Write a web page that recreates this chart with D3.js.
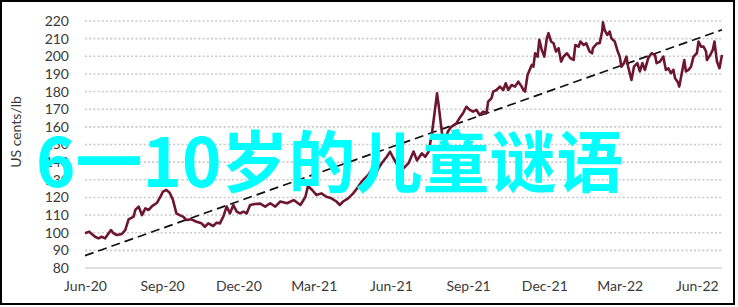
<!DOCTYPE html>
<html>
<head>
<meta charset="utf-8">
<script src="https://cdn.jsdelivr.net/npm/d3@7"></script>
<style>
  body { margin: 0; background: #fff; }
  svg { display: block; }
</style>
</head>
<body>
<script>
// precio en US cents/lb
let dates = [
  "2020-06-01","2020-06-06","2020-06-13","2020-06-17","2020-06-21","2020-06-25","2020-07-02","2020-07-05","2020-07-09","2020-07-15",
  "2020-07-19","2020-07-23","2020-07-29","2020-07-31","2020-08-04","2020-08-08","2020-08-12","2020-08-16","2020-08-20","2020-08-26",
  "2020-08-30","2020-09-02","2020-09-06","2020-09-10","2020-09-14","2020-09-18","2020-09-22","2020-09-26","2020-09-30","2020-10-06",
  "2020-10-12","2020-10-18","2020-10-22","2020-10-26","2020-11-01","2020-11-05","2020-11-09","2020-11-13","2020-11-17","2020-11-21",
  "2020-11-25","2020-11-29","2020-12-03","2020-12-07","2020-12-11","2020-12-15","2020-12-21","2020-12-27","2021-01-02","2021-01-08",
  "2021-01-14","2021-01-20","2021-01-28","2021-02-05","2021-02-13","2021-02-19","2021-02-22","2021-02-27","2021-03-04","2021-03-10",
  "2021-03-16","2021-03-22","2021-03-28","2021-04-01","2021-04-05","2021-04-11","2021-04-17","2021-04-23","2021-04-27","2021-05-01",
  "2021-05-05","2021-05-09","2021-05-13","2021-05-17","2021-05-21","2021-05-27","2021-05-31","2021-06-04","2021-06-10","2021-06-16",
  "2021-06-22","2021-06-28","2021-07-02","2021-07-08","2021-07-12","2021-07-16","2021-07-20","2021-07-23","2021-07-26","2021-07-28",
  "2021-07-30","2021-08-01","2021-08-05","2021-08-08","2021-08-12","2021-08-18","2021-08-22","2021-08-26","2021-08-30","2021-09-03",
  "2021-09-07","2021-09-11","2021-09-15","2021-09-19","2021-09-23","2021-09-25","2021-09-29","2021-10-01","2021-10-05","2021-10-09",
  "2021-10-13","2021-10-16","2021-10-19","2021-10-23","2021-10-27","2021-10-31","2021-11-04","2021-11-06","2021-11-08","2021-11-11",
  "2021-11-16","2021-11-18","2021-11-20","2021-11-23","2021-11-25","2021-11-28","2021-12-01","2021-12-04","2021-12-06","2021-12-09",
  "2021-12-12","2021-12-15","2021-12-18","2021-12-21","2021-12-24","2021-12-28","2022-01-01","2022-01-05","2022-01-07","2022-01-11",
  "2022-01-13","2022-01-17","2022-01-20","2022-01-24","2022-01-27","2022-01-28","2022-02-02","2022-02-05","2022-02-08","2022-02-09",
  "2022-02-11","2022-02-14","2022-02-17","2022-02-19","2022-02-23","2022-02-26","2022-03-01","2022-03-03","2022-03-06","2022-03-09",
  "2022-03-11","2022-03-15","2022-03-18","2022-03-22","2022-03-25","2022-03-28","2022-03-31","2022-04-04","2022-04-08","2022-04-12",
  "2022-04-14","2022-04-18","2022-04-22","2022-04-25","2022-04-28","2022-05-01","2022-05-04","2022-05-06","2022-05-09","2022-05-11",
  "2022-05-14","2022-05-17","2022-05-19","2022-05-22","2022-05-25","2022-05-28","2022-06-01","2022-06-03","2022-06-06","2022-06-09",
  "2022-06-12","2022-06-13","2022-06-17","2022-06-20","2022-06-22","2022-06-25","2022-06-28","2022-07-01"
];

let prices = [
  99.7, 100.6, 97.7, 96.8, 97.7, 96.8, 101.5, 99.7, 98.7, 99.3,
  101.5, 107.6, 109.1, 112.9, 114.8, 110, 113.8, 112.9, 115.1, 117,
  120.4, 123.3, 124.2, 122.7, 118.5, 111, 110, 109.1, 107.2, 107.6,
  106.2, 105.3, 103.4, 105.3, 103.8, 105.7, 105.3, 109.1, 114.8, 111,
  115.7, 112, 111, 112, 111, 115.7, 116.3, 116.5, 114.8, 116.7,
  114.8, 117.7, 116.7, 118.5, 115.7, 120.4, 126.5, 124.2, 121.4, 122.3,
  120.4, 119.5, 117.7, 115.7, 117.7, 119.5, 122.3, 126.1, 128.9, 130.9,
  132.7, 135.6, 131.8, 136.5, 139.4, 143.1, 145.9, 142.2, 137.4, 136.5,
  139.4, 146, 141, 145, 143, 146, 156.4, 167.7, 179, 172,
  164, 156, 153, 157.3, 160, 162, 165, 167.7, 171.4, 169.6,
  168.6, 169.6, 166.7, 168.6, 167.7, 174.3, 176.2, 180, 180.9, 182.8,
  180.9, 184.7, 180.9, 183.7, 182.8, 185.6, 182.8, 180.9, 180, 189.4,
  195.1, 194.1, 201.7, 199.8, 209.3, 203.6, 199.8, 210.2, 213.1, 208.4,
  207.4, 202.7, 204.6, 197, 199.9, 201.7, 199, 197.9, 206.4, 205.5,
  208.4, 206.4, 207.4, 202.7, 201.7, 204.6, 207.4, 207.4, 214, 219.2,
  214.9, 212.1, 214, 210.2, 208.4, 203.6, 199.8, 194.1, 196.1, 199.8,
  194.1, 186.6, 194.1, 196.1, 191.4, 196.1, 192.3, 199, 201.7, 200.8,
  196.1, 197, 199.8, 192.3, 193.2, 190.4, 192.3, 187.6, 185.6, 182.8,
  190.4, 197.9, 191.4, 192.3, 194.1, 199.8, 201.7, 208.4, 205.5, 205.5,
  202.7, 197.9, 200.8, 203.6, 208.4, 197, 193.2, 200.8
];

// línea de tendencia (punteada)
let trendDates = ["2020-06-01", "2022-07-01"];
let trendValues = [87, 215];

let yTicks = [80, 90, 100, 110, 120, 130, 140, 150, 160, 170, 180, 190, 200, 210, 220];
let xTicks = ["2020-06-01","2020-09-01","2020-12-01","2021-03-01","2021-06-01","2021-09-01","2021-12-01","2022-03-01","2022-06-01"];

let yTitle = "US cents/lb";
let watermark = "6一10岁的儿童谜语";

let WIDTH = 738, HEIGHT = 307;
let parse = d3.timeParse("%Y-%m-%d");
let font = "Lato, 'Open Sans', sans-serif";

let svg = d3.select("body").append("svg")
            .attr("width", WIDTH)
            .attr("height", HEIGHT);

let x = d3.scaleTime()
          .domain([parse("2020-06-01"), parse("2022-07-01")])
          .range([85, 722]);
let y = d3.scaleLinear()
          .domain([80, 220])
          .range([268, 21]);

// grilla punteada
svg.append("g")
   .selectAll("line")
   .data(yTicks.filter(t => t > 80))
   .enter()
   .append("line")
     .attr("x1", x.range()[0])
     .attr("x2", x.range()[1])
     .attr("y1", d => y(d))
     .attr("y2", d => y(d))
     .attr("stroke", "#c9c9c9")
     .attr("stroke-width", 1.6)
     .attr("stroke-dasharray", "2,2.2");

// eje base
svg.append("line")
   .attr("x1", x.range()[0]).attr("x2", x.range()[1])
   .attr("y1", y(80)).attr("y2", y(80))
   .attr("stroke", "#d4d4d4")
   .attr("stroke-width", 1.5);

// etiquetas eje y
let yAxis = d3.axisLeft(y).tickValues(yTicks).tickSize(0).tickPadding(0);
let gy = svg.append("g")
            .attr("transform", "translate(69,0)")
            .call(yAxis);
gy.select(".domain").remove();
gy.selectAll("text")
  .attr("font-family", font)
  .attr("font-size", 14)
  .attr("fill", "#3a3a3a");

// etiquetas eje x
let xAxis = d3.axisBottom(x)
              .tickValues(xTicks.map(parse))
              .tickFormat(d3.timeFormat("%b-%y"))
              .tickSize(0)
              .tickPadding(0);
let gx = svg.append("g")
            .attr("transform", "translate(0,281)")
            .call(xAxis);
gx.select(".domain").remove();
gx.selectAll("text")
  .attr("font-family", font)
  .attr("font-size", 14)
  .attr("fill", "#3a3a3a");

// título eje y
svg.append("text")
   .attr("transform", "translate(21,132) rotate(-90)")
   .attr("text-anchor", "middle")
   .attr("font-family", font)
   .attr("font-size", 14)
   .attr("fill", "#3a3a3a")
   .text(yTitle);

// tendencia
let trend = trendDates.map((d, i) => ({ date: parse(d), value: trendValues[i] }));
svg.append("path")
   .datum(trend)
   .attr("fill", "none")
   .attr("stroke", "#111")
   .attr("stroke-width", 1.7)
   .attr("stroke-dasharray", "9,5")
   .attr("d", d3.line().x(d => x(d.date)).y(d => y(d.value)));

// serie de precios
let series = dates.map((d, i) => ({ date: parse(d), value: prices[i] }));
svg.append("path")
   .datum(series)
   .attr("fill", "none")
   .attr("stroke", "#6d1630")
   .attr("stroke-width", 2.6)
   .attr("stroke-linejoin", "round")
   .attr("d", d3.line().x(d => x(d.date)).y(d => y(d.value)));

// marco
svg.append("rect")
   .attr("x", 1).attr("y", 1)
   .attr("width", 733).attr("height", 303)
   .attr("fill", "none")
   .attr("stroke", "#000")
   .attr("stroke-width", 2);

// marca de agua
svg.append("text")
   .attr("x", 36)
   .attr("y", 187)
   .attr("font-family", "'Noto Sans CJK SC', sans-serif")
   .attr("font-size", 67)
   .attr("font-weight", "bold")
   .attr("fill", "#00ffff")
   .text(watermark);
</script>
</body>
</html>
